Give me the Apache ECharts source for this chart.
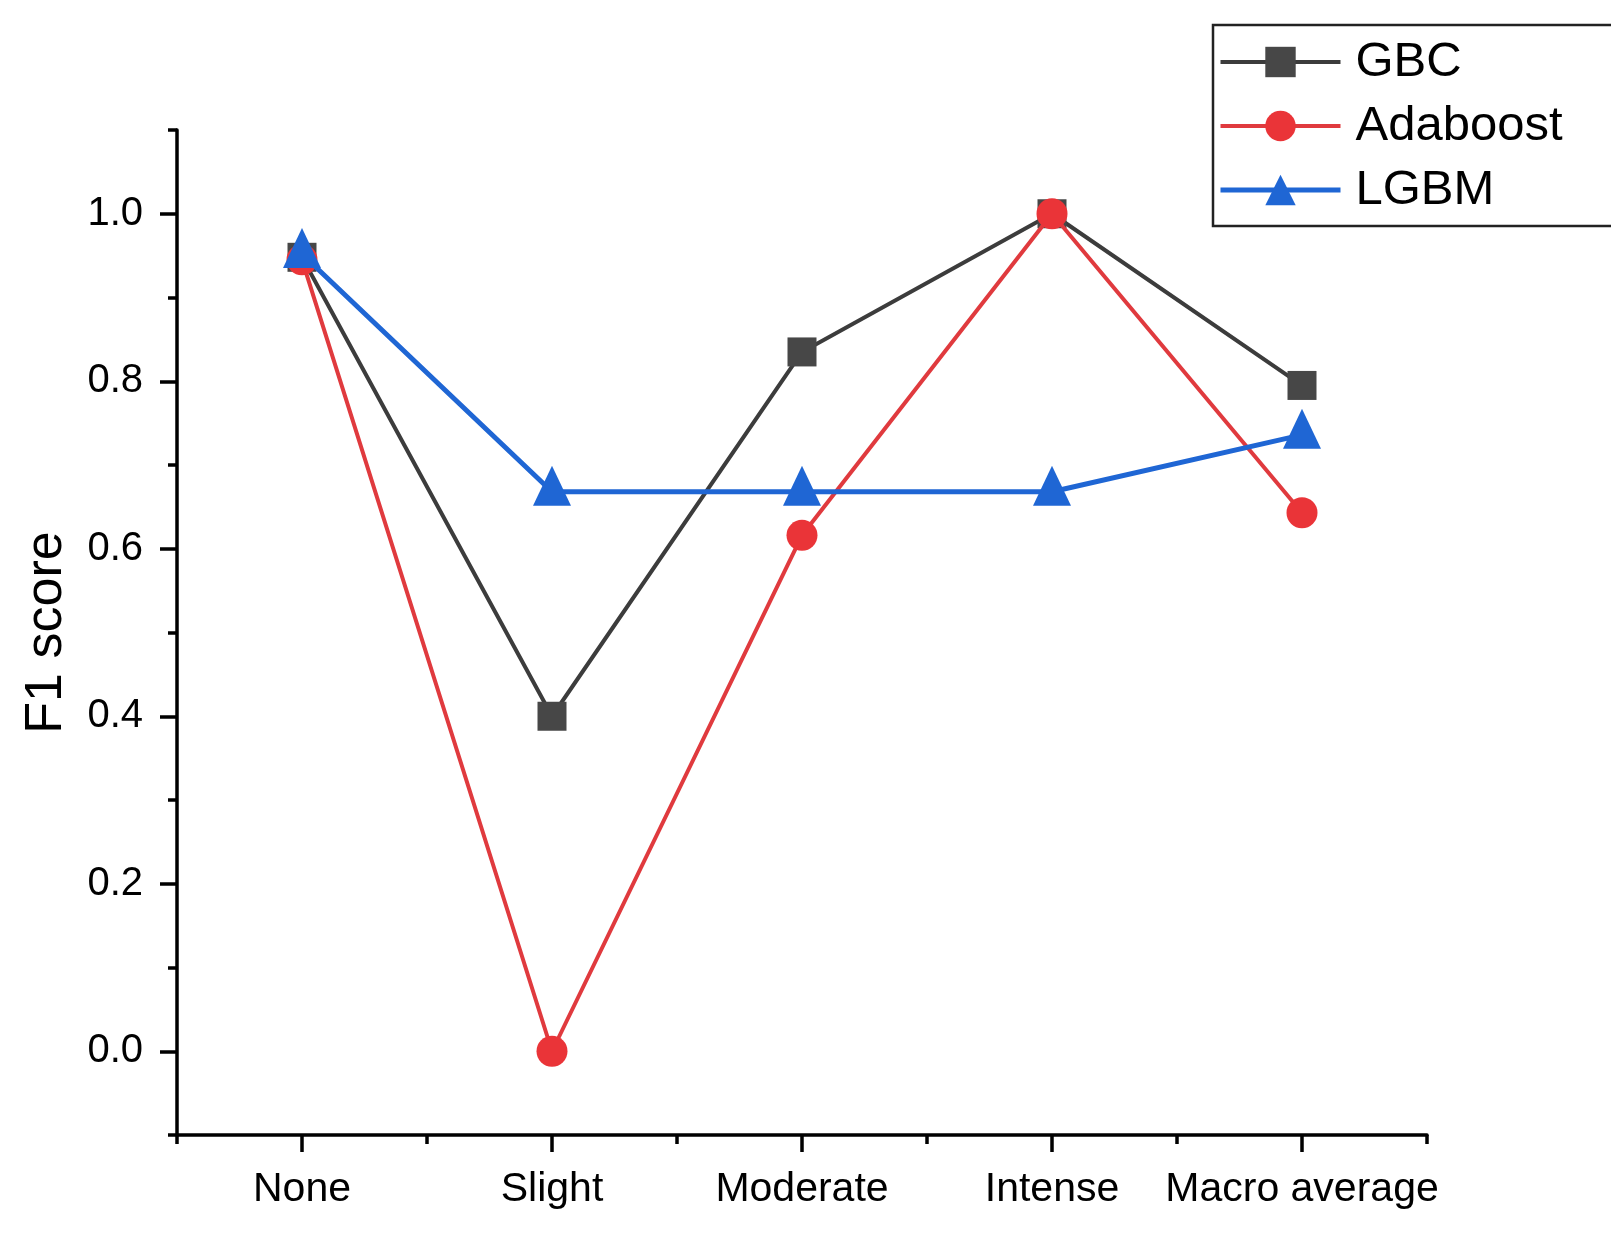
<!DOCTYPE html>
<html>
<head>
<meta charset="utf-8">
<script src="https://cdn.jsdelivr.net/npm/echarts@6/dist/echarts.min.js"></script>
<style>html,body{margin:0;padding:0;background:#fff;}#c{width:1611px;height:1240px;}</style>
</head>
<body>
<div id="c"></div>
<script>
const categories = ['None', 'Slight', 'Moderate', 'Intense', 'Macro average'];
const gbc = [0.948, 0.40, 0.835, 1.0, 0.795];
const adaboost = [0.945, 0.0, 0.616, 1.0, 0.643];
const lgbm = [0.952, 0.668, 0.668, 0.668, 0.736];
const yTicks = [0.0, 0.2, 0.4, 0.6, 0.8, 1.0];

const FONT = '"Liberation Sans", Arial, sans-serif';
const chart = echarts.init(document.getElementById('c'));
const G1 = {left: 177, right: 184, top: 130, bottom: 105};
const unit = (1240 - G1.top - G1.bottom) / 1.2 * 0.1;

chart.setOption({
  backgroundColor: '#fff',
  animation: false,
  grid: [
    {left: G1.left, right: G1.right, top: G1.top, bottom: G1.bottom},
    {left: G1.left, right: G1.right, top: G1.top + unit, bottom: G1.bottom + unit}
  ],
  legend: {
    orient: 'vertical',
    left: 1213, top: 25,
    padding: [12, 60, 11, 5],
    itemGap: 14,
    itemWidth: 120, itemHeight: 38,
    borderColor: '#222', borderWidth: 2.5,
    textStyle: {fontFamily: FONT, fontSize: 49, color: '#000', lineHeight: 50, padding: [0, 0, 0, 10]},
    data: [
      {name: 'GBC', lineStyle: {width: 4}},
      {name: 'Adaboost', lineStyle: {width: 4}},
      {name: 'LGBM', lineStyle: {width: 5}}
    ]
  },
  xAxis: [
    {
      type: 'category', gridIndex: 0, data: categories, position: 'bottom', boundaryGap: true,
      axisLine: {show: true, onZero: false, lineStyle: {color: '#000', width: 3.5}},
      axisTick: {show: true, length: 9, lineStyle: {color: '#000', width: 3.5}},
      axisLabel: {fontFamily: FONT, fontSize: 41, color: '#000', margin: 34, interval: 0},
      splitLine: {show: false}
    },
    {
      type: 'category', gridIndex: 0, data: categories, position: 'bottom', boundaryGap: true,
      axisLine: {show: false, onZero: false},
      axisTick: {show: true, alignWithLabel: true, length: 17, lineStyle: {color: '#000', width: 3.5}},
      axisLabel: {show: false},
      splitLine: {show: false}
    },
    {
      type: 'category', gridIndex: 1, data: categories, show: false
    }
  ],
  yAxis: [
    {
      type: 'value', gridIndex: 0, min: -0.1, max: 1.1, interval: 0.2,
      axisLine: {show: true, onZero: false, lineStyle: {color: '#000', width: 3.5}},
      axisTick: {show: true, length: 9, lineStyle: {color: '#000', width: 3.5}},
      axisLabel: {show: false},
      splitLine: {show: false}
    },
    {
      type: 'value', gridIndex: 1, min: yTicks[0], max: yTicks[yTicks.length - 1], interval: 0.2,
      axisLine: {show: false, onZero: false},
      axisTick: {show: true, length: 17, lineStyle: {color: '#000', width: 3.5}},
      axisLabel: {fontFamily: FONT, fontSize: 40, color: '#000', margin: 34,
        formatter: v => v.toFixed(1)},
      splitLine: {show: false},
      name: 'F1 score', nameLocation: 'middle', nameGap: 104,
      nameTextStyle: {fontFamily: FONT, fontSize: 52, color: '#000'}
    }
  ],
  series: [
    {
      name: 'GBC', type: 'line', xAxisIndex: 0, yAxisIndex: 0, data: gbc,
      symbol: 'rect', symbolSize: 29,
      lineStyle: {color: '#3c3c3c', width: 4},
      itemStyle: {color: '#474747'}, z: 2
    },
    {
      name: 'Adaboost', type: 'line', xAxisIndex: 0, yAxisIndex: 0, data: adaboost,
      symbol: 'circle', symbolSize: 31,
      lineStyle: {color: '#e03a3e', width: 4},
      itemStyle: {color: '#ea3438'}, z: 3
    },
    {
      name: 'LGBM', type: 'line', xAxisIndex: 0, yAxisIndex: 0, data: lgbm,
      symbol: 'triangle', symbolSize: [38, 40], symbolOffset: [0, -6],
      lineStyle: {color: '#1f66d4', width: 5},
      itemStyle: {color: '#1f66d4'}, z: 4
    }
  ]
});
</script>
</body>
</html>
